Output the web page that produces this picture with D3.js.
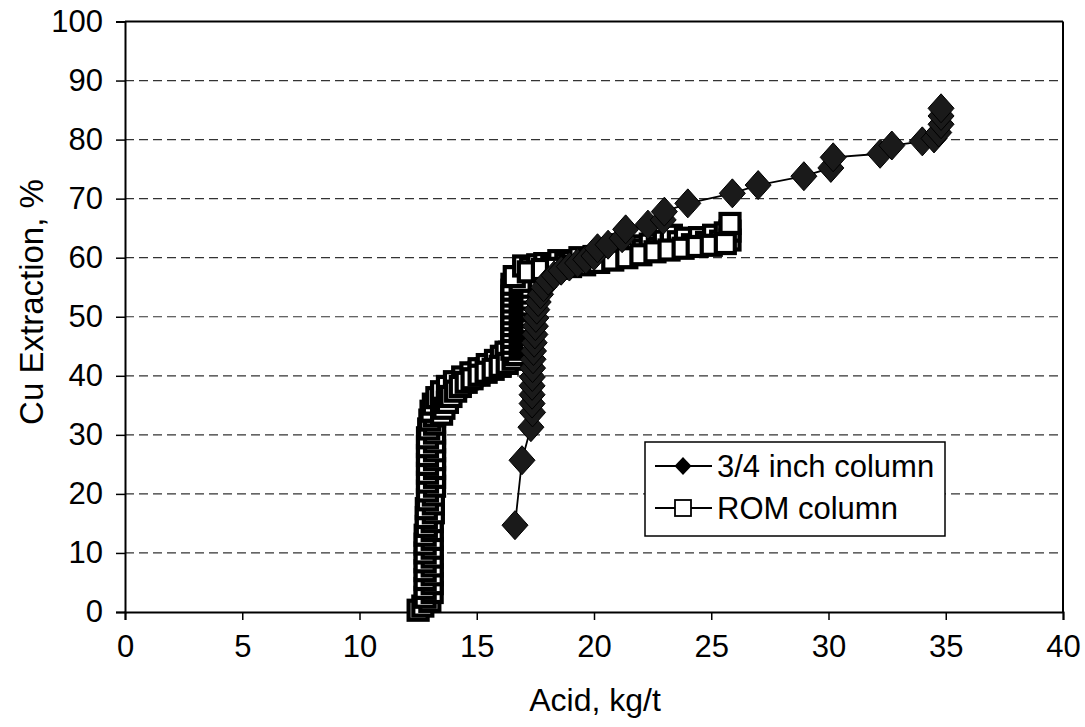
<!DOCTYPE html>
<html><head><meta charset="utf-8">
<script src="https://cdn.jsdelivr.net/npm/d3@7"></script>
<style>body{margin:0;background:#fff}svg{display:block}text{font-family:"Liberation Sans",Arial,sans-serif;fill:#000}</style>
</head><body><svg id="c" width="1085" height="727"></svg>
<script>
const xTicks=[0,5,10,15,20,25,30,35,40];
const yTicks=[0,10,20,30,40,50,60,70,80,90,100];
const seriesNames=["3/4 inch column","ROM column"];
// 3/4 inch column (diamonds)
const inchX=[16.63,16.93,17.31,17.38,17.36,17.36,17.36,17.37,17.38,17.4,17.42,17.45,17.48,17.5,17.52,17.56,17.62,17.72,17.85,18.05,18.3,18.6,18.95,19.3,19.65,20.0,20.15,20.6,21.2,21.35,22.3,22.95,23.0,24.0,25.9,27.0,28.95,30.1,30.2,32.2,32.7,34.0,34.5,34.7,34.8,34.8,34.8];
const inchY=[14.7,25.7,31.3,33.8,35.3,36.8,38.3,39.8,41.3,42.8,44.2,45.6,47.0,48.4,49.8,51.2,52.5,53.8,55.0,56.1,57.0,57.8,58.5,59.1,59.7,60.3,61.6,62.2,63.3,64.8,65.6,66.4,67.8,69.2,70.9,72.3,73.8,75.2,77.0,77.6,79.0,79.7,80.2,81.2,82.6,84.0,85.3];
// ROM column (squares)
const romX=[12.5,12.7,13.0,12.8,13.1,12.8,13.1,12.8,13.1,12.8,13.1,12.8,13.1,12.8,13.1,12.8,13.1,12.8,13.1,12.85,13.1,12.85,13.15,12.85,13.15,12.9,13.15,12.9,13.2,12.9,13.2,12.9,13.2,12.9,13.2,12.9,13.2,12.9,13.2,12.9,13.2,12.95,13.2,13.0,13.2,
 13.3,13.35,13.4,13.45,13.5,13.55,13.62,13.7,13.78,13.85,13.92,14.0,14.1,14.2,14.3,14.4,14.5,14.6,14.7,14.8,14.9,15.0,15.1,15.2,15.3,15.4,15.5,15.6,15.7,15.8,15.9,16.0,16.1,16.15,16.25,16.3,16.4,
 13.05,13.15,13.3,13.5,13.75,14.05,14.4,14.75,15.1,15.45,15.8,16.05,16.25,
 13.5,13.6,13.75,13.9,14.1,14.3,14.55,14.8,15.1,15.4,15.7,16.0,16.3,16.55,16.7,
 16.5,16.85,16.5,16.85,16.5,16.85,16.5,16.85,16.5,16.85,16.5,16.85,16.5,16.85,16.5,16.85,16.5,16.85,16.5,16.85,16.5,16.85,16.5,16.85,16.6,
 17.0,17.3,17.6,17.9,18.2,18.5,18.8,19.1,19.4,19.7,20.0,20.3,20.6,20.9,21.2,21.2,21.5,21.8,22.1,22.4,22.7,23.0,23.3,23.3,23.6,23.9,24.2,24.5,24.8,25.1,25.4,25.6,25.8,25.8,25.8,
 17.2,17.8,18.4,19.0,19.6,20.2,20.8,21.4,22.0,22.6,23.2,23.8,24.4,25.0,25.6];
const romY=[0.3,1.0,1.8,2.5,3.3,4.0,4.8,5.5,6.3,7.0,7.8,8.5,9.3,10.0,10.8,11.5,12.3,13.0,13.8,14.5,15.3,16.0,16.8,17.5,18.3,19.0,19.8,20.5,21.3,22.0,22.8,23.5,24.3,25.0,25.8,26.5,27.3,28.0,28.8,29.5,30.3,31.0,31.8,32.5,33.2,
 34.0,34.4,34.8,35.1,35.5,35.8,36.2,36.6,36.9,37.2,37.5,37.8,38.1,38.4,38.7,39.0,39.2,39.5,39.7,40.0,40.2,40.4,40.6,40.8,41.0,41.2,41.4,41.6,41.8,42.0,42.2,42.5,42.7,43.0,43.3,43.6,44.0,
 34.0,35.2,36.3,37.3,38.2,39.0,39.8,40.5,41.2,41.9,42.6,43.3,44.0,
 33.5,34.5,35.5,36.5,37.4,38.2,38.9,39.5,40.1,40.6,41.1,41.6,42.1,42.8,43.6,
 44.5,45.0,45.5,46.0,46.5,47.0,47.5,48.0,48.5,49.0,49.5,50.0,50.5,51.0,51.5,52.0,52.5,53.0,53.5,54.0,54.5,55.0,55.5,56.0,56.8,
 58.6,58.3,58.8,59.0,58.6,59.5,58.9,59.3,60.0,59.5,60.2,59.8,60.5,61.3,60.4,62.2,61.0,62.0,61.3,62.3,61.6,62.8,61.9,63.8,62.7,63.3,62.2,63.4,62.6,63.8,62.8,64.2,63.0,64.5,65.8,
 57.6,58.0,58.2,58.5,58.8,59.2,59.6,60.0,60.5,61.0,61.3,61.6,61.9,62.1,62.4];

const svg=d3.select("#c");
const x=d3.scaleLinear().domain([0,40]).range([125,1063]);
const y=d3.scaleLinear().domain([0,100]).range([612,21.5]);
const FS=31;

// gridlines
svg.append("g").selectAll("line").data(yTicks.filter(v=>v>0&&v<100)).join("line")
 .attr("x1",x(0)).attr("x2",x(40)).attr("y1",d=>y(d)).attr("y2",d=>y(d))
 .attr("stroke","#333").attr("stroke-width",1.2).attr("stroke-dasharray","9,5");

// frame
svg.append("line").attr("x1",x(0)).attr("x2",x(40)).attr("y1",y(100)).attr("y2",y(100)).attr("stroke","#000").attr("stroke-width",2);
svg.append("line").attr("x1",x(40)).attr("x2",x(40)).attr("y1",y(100)).attr("y2",y(0)).attr("stroke","#000").attr("stroke-width",2);

// axes
const xa=svg.append("g").attr("transform",`translate(0,${y(0)})`)
 .call(d3.axisBottom(x).tickValues(xTicks).tickSize(8).tickPadding(10).tickFormat(d3.format("d")));
const ya=svg.append("g").attr("transform",`translate(${x(0)},0)`)
 .call(d3.axisLeft(y).tickValues(yTicks).tickSize(9).tickPadding(13).tickFormat(d3.format("d")));
[xa,ya].forEach(a=>{a.select(".domain").attr("stroke","#000").attr("stroke-width",2);
 a.selectAll(".tick line").attr("stroke","#000").attr("stroke-width",1.5);
 a.selectAll(".tick text").attr("font-size",FS).attr("font-family","Liberation Sans, Arial, sans-serif").attr("fill","#000");});
xa.selectAll(".tick text").attr("dy","0.88em");

// axis titles
svg.append("text").attr("x",595).attr("y",711).attr("text-anchor","middle").attr("font-size",32).text("Acid, kg/t");
svg.append("text").attr("transform",`translate(43,${302}) rotate(-90)`).attr("text-anchor","middle").attr("font-size",33).text("Cu Extraction, %");

const romData=romX.map((v,i)=>({x:v,y:romY[i]}));
const inchData=inchX.map((v,i)=>({x:v,y:inchY[i]}));
const line=d3.line().x(d=>x(d.x)).y(d=>y(d.y));
const diamond=(w,h)=>`M0,${-h/2}L${w/2},0L0,${h/2}L${-w/2},0Z`;

// ROM series
svg.append("g").selectAll("rect").data(romData).join("rect")
 .attr("x",d=>x(d.x)-9.5).attr("y",d=>y(d.y)-9.5).attr("width",19).attr("height",19)
 .attr("fill","#fff").attr("stroke","#000").attr("stroke-width",4.2);

// 3/4 inch series
svg.append("path").datum(inchData).attr("d",line).attr("fill","none").attr("stroke","#000").attr("stroke-width",1.8);
svg.append("g").selectAll("path").data(inchData).join("path")
 .attr("transform",d=>`translate(${x(d.x)},${y(d.y)})`).attr("d",diamond(26,29))
 .attr("fill","#1a1a1a").attr("stroke","#000").attr("stroke-width",1);

// legend
const lg=svg.append("g");
lg.append("rect").attr("x",645).attr("y",442).attr("width",300).attr("height",94).attr("fill","#fff").attr("stroke","#000").attr("stroke-width",1.5);
const ly=[466,508];
seriesNames.forEach((n,i)=>{
 lg.append("line").attr("x1",655).attr("x2",712).attr("y1",ly[i]).attr("y2",ly[i]).attr("stroke","#000").attr("stroke-width",1.8);
 if(i===0) lg.append("path").attr("transform",`translate(683,${ly[i]})`).attr("d",diamond(17,18)).attr("fill","#000");
 else lg.append("rect").attr("x",675).attr("y",ly[i]-8).attr("width",16).attr("height",16).attr("fill","#fff").attr("stroke","#000").attr("stroke-width",1.8);
 lg.append("text").attr("x",717).attr("y",ly[i]+11).attr("font-size",FS).text(n);
});
</script></body></html>
